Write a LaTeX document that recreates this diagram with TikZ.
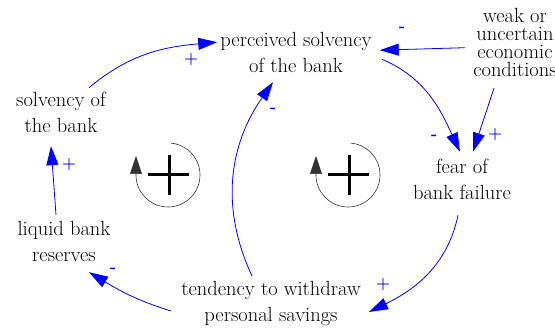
\documentclass[tikz,border=0pt]{standalone}
\usepackage{fontspec}
\usetikzlibrary{arrows.meta}

\tikzset{
  var/.style={align=center, inner sep=2pt, font=\fontsize{20.5pt}{26pt}\selectfont},
  link/.style={blue, line width=0.8pt, -{Triangle[length=19pt,width=12pt]}},
  sign/.style={blue, inner sep=0pt, font=\fontsize{16pt}{18pt}\selectfont\bfseries},
  loopline/.style={black!80, line width=0.6pt, -{Triangle[length=18pt,width=12pt]}},
  loopsign/.style={black, line width=3pt},
}

\begin{document}
\begin{tikzpicture}[x=1pt,y=1pt]
  \useasboundingbox (0,0) rectangle (555,329);

  % Variables
  \node[var] (percv) at (296,276.8) {perceived solvency\\of the bank};
  \node[var, font=\fontsize{20.5pt}{18pt}\selectfont] (weak) at (515,286.3) {weak or\\uncertain\\economic\\conditions};
  \node[var] (fear) at (462,149.8) {fear of\\bank failure};
  \node[var] (solv) at (61,216.3) {solvency of\\the bank};
  \node[var] (liquid) at (64,87.8) {liquid bank\\reserves};
  \node[var] (tend) at (271,26) {tendency to withdraw\\personal savings};

  % Causal links
  \draw[link] ([shift={(28,2.5)}]solv.north) to[out=40,in=185] ([shift={(-1,10)}]percv.west);
  \draw[link] ([shift={(-6,-5)}]weak.west) -- ([shift={(6,2)}]percv.east);
  \draw[link] ([shift={(8,-7)}]percv.east) to[out=-23,in=115] ([shift={(-2,5)}]fear.north);
  \draw[link] ([shift={(-21,-9)}]weak.south) -- ([shift={(11,5)}]fear.north);
  \draw[link] ([shift={(-4,-13.6)}]fear.south) to[out=-102,in=26] ([shift={(6,-9)}]tend.east);
  \draw[link] ([shift={(-8,-8)}]tend.west) to[out=163,in=-31] ([shift={(25,-8.6)}]liquid.south);
  \draw[link] ([shift={(-8,4)}]liquid.north) -- ([shift={(-10,-11)}]solv.south);
  \draw[link] ([shift={(-19,2.6)}]tend.north) to[out=115,in=235] ([shift={(-23,-7.6)}]percv.south);

  % Polarities
  \node[sign] (p1) at (191,269) {+};
  \node[sign] (m2) at (402,300) {-};
  \node[sign] (m3) at (434,192) {-};
  \node[sign] (p4) at (495,194) {+};
  \node[sign] (p5) at (383,44) {+};
  \node[sign] (m6) at (113,59) {-};
  \node[sign] (p7) at (69,164) {+};
  \node[sign] (m8) at (273,219) {-};

  % Loop markers
  \draw[loopline] (168,154) ++(85:32) arc[start angle=85, end angle=-180, radius=32pt] -- ++(0,19);
  \draw[loopsign] (148,154) -- (189,154) (169,134) -- (169,174);
  \draw[loopline] (348,154) ++(85:32) arc[start angle=85, end angle=-180, radius=32pt] -- ++(0,19);
  \draw[loopsign] (328,154) -- (369,154) (349,134) -- (349,174);
\end{tikzpicture}
\end{document}
